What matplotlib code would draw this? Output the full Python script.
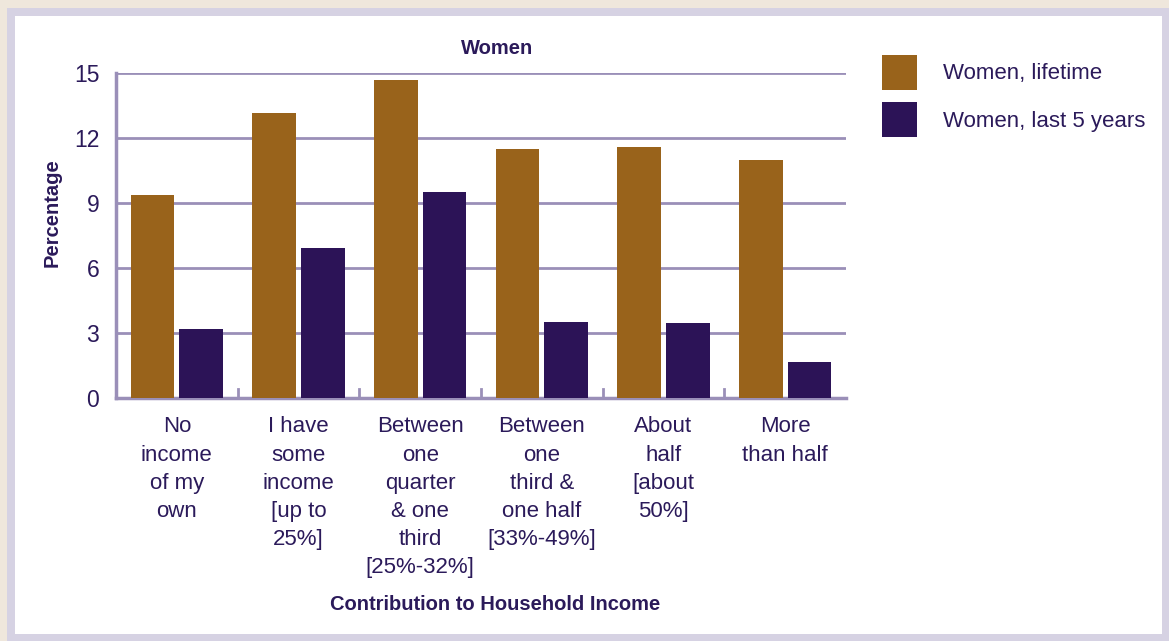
import matplotlib
matplotlib.use("Agg")
import matplotlib.pyplot as plt
import matplotlib.patches as patches
import numpy as np

categories = ["No\nincome\nof my\nown",
              "I have\nsome\nincome\n[up to\n25%]",
              "Between\none\nquarter\n& one\nthird\n[25%-32%]",
              "Between\none\nthird &\none half\n[33%-49%]",
              "About\nhalf\n[about\n50%]",
              "More\nthan half"]
lifetime = [9.35, 13.15, 14.7, 11.5, 11.6, 11.0]
last5 = [3.2, 6.9, 9.5, 3.5, 3.45, 1.65]
series_names = ["Women, lifetime", "Women, last 5 years"]
yticks = [0, 3, 6, 9, 12, 15]

BROWN = "#99631B"
PURPLE = "#2C1357"
TEXT = "#2B1A5A"
GRID = "#9A8FB8"

plt.rcParams['font.family'] = ['Liberation Sans', 'DejaVu Sans']

W, H = 1169, 641
fig = plt.figure(figsize=(W / 100, H / 100), dpi=100)
fig.patch.set_facecolor("#EFE7DC")

# frame: lavender border and white panel
fig.patches.append(patches.Rectangle((7 / W, 0), (1169 - 7) / W, (641 - 8) / H,
                                     transform=fig.transFigure, facecolor="#D6D2E3",
                                     edgecolor="none", zorder=-2))
fig.patches.append(patches.Rectangle((15 / W, (641 - 634) / H), (1162 - 15) / W, (634 - 16) / H,
                                     transform=fig.transFigure, facecolor="white",
                                     edgecolor="none", zorder=-1))

ax = fig.add_axes([116 / W, (641 - 398) / H, (846 - 116) / W, (398 - 73) / H])
ax.set_facecolor("none")

x = np.arange(len(categories))
bw = 0.36
ax.bar(x - 0.2, lifetime, bw, color=BROWN, zorder=3, label=series_names[0])
ax.bar(x + 0.2, last5, bw, color=PURPLE, zorder=3, label=series_names[1])

ax.set_xlim(-0.5, len(categories) - 0.5)
ax.set_ylim(0, 15)
ax.set_yticks(yticks)
ax.set_yticklabels([str(v) for v in yticks], fontsize=16.5, color=TEXT)
ax.tick_params(axis="y", length=0, pad=12)
for v in yticks[1:]:
    ax.axhline(v, color=GRID, lw=2, zorder=1)

ax.set_xticks(x)
ax.set_xticklabels([])
ax.tick_params(axis="x", length=0)
# boundary ticks pointing up
for b in np.arange(0.5, len(categories) - 0.5, 1):
    ax.plot([b, b], [0, 0.4], color=GRID, lw=2, zorder=2, clip_on=False)

for xi, lab in zip(x, categories):
    ax.text(xi, -0.85, lab, ha="center", va="top", fontsize=16, color=TEXT,
            linespacing=1.45, transform=ax.transData)

for s in ["top", "right"]:
    ax.spines[s].set_visible(False)
for s in ["left", "bottom"]:
    ax.spines[s].set_color(GRID)
    ax.spines[s].set_linewidth(2.5)

fig.text(497 / W, 1 - 48 / H, "Women", ha="center", va="center", fontsize=14.5,
         fontweight="bold", color=TEXT)
fig.text(52 / W, 1 - 213 / H, "Percentage", ha="center", va="center", rotation=90,
         fontsize=14.5, fontweight="bold", color=TEXT)
fig.text(495 / W, 1 - 604 / H, "Contribution to Household Income", ha="center",
         va="center", fontsize=14.5, fontweight="bold", color=TEXT)

# legend
for i, (name, col) in enumerate(zip(series_names, [BROWN, PURPLE])):
    y0 = 55 + i * 47
    fig.patches.append(patches.Rectangle((882 / W, 1 - (y0 + 35) / H), 35 / W, 35 / H,
                                         transform=fig.transFigure, facecolor=col,
                                         edgecolor="none"))
    fig.text(943 / W, 1 - (y0 + 19) / H, name, ha="left", va="center", fontsize=16,
             color=TEXT)

fig.savefig("out.png", dpi=100, facecolor=fig.get_facecolor())
